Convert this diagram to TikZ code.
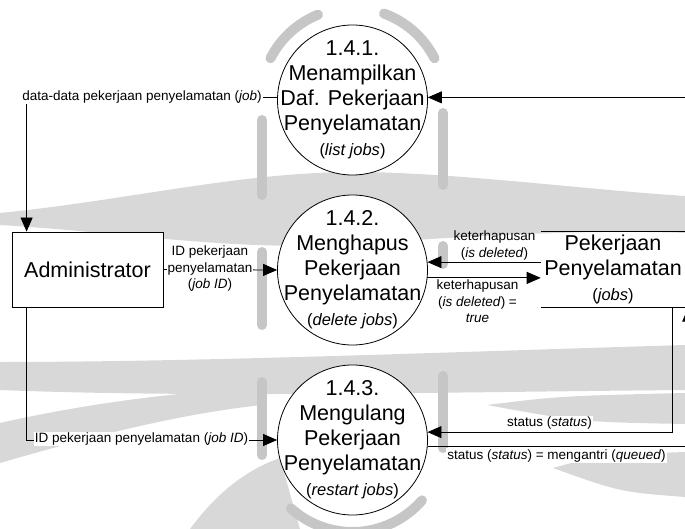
\documentclass[tikz,border=0pt]{standalone}
\usepackage{fontspec}
\setmainfont{Liberation Sans}
\usetikzlibrary{arrows.meta}
\definecolor{markbar}{HTML}{C6C6C6}
\definecolor{markband}{HTML}{D8D8D8}
\newcommand\subtxt[1]{{\fontsize{16.5}{19}\selectfont #1}}
\begin{document}
\begin{tikzpicture}[x=1pt,y=-1pt,
  big/.style={font=\fontsize{21.5}{25}\selectfont},
  lbl/.style={font=\fontsize{13.5}{16.5}\selectfont, align=center, inner sep=1pt},
  lblw/.style={lbl, fill=white},
  process/.style={circle, draw, line width=0.8pt, fill=white, minimum size=150pt,
                  inner sep=0pt},
  ptext/.style={big, align=center, inner sep=0pt},
  entity/.style={rectangle, draw, line width=0.8pt, fill=white, minimum width=151pt,
                 minimum height=75pt, big},
  storebox/.style={rectangle, minimum width=142pt, minimum height=75pt, align=center, big},
  flow/.style={-{Triangle[length=14pt,width=12pt]}, line width=0.8pt},
  barmark/.style={line width=10pt, line cap=round, draw=markbar},
]
\useasboundingbox (0,0) rectangle (685,529);
\clip (0,0) rectangle (685,529);

% watermark: wave bands
\fill[markband] (0,213) .. controls (130,200) and (240,172) .. (355,172)
  .. controls (450,172) and (590,190) .. (685,196) -- (685,233)
  .. controls (590,229) and (470,236) .. (355,244)
  .. controls (240,252) and (120,232) .. (0,225) -- cycle;
\fill[markband] (0,362) .. controls (200,362) and (450,352) .. (685,345) -- (685,390)
  .. controls (450,392) and (200,398) .. (0,390) -- cycle;
\fill[markband] (487,405) .. controls (560,396) .. (685,393) -- (685,424)
  .. controls (580,422) .. (487,405) -- cycle;
\fill[markband] (0,423) .. controls (80,405) and (170,392) .. (262,388) -- (262,405)
  .. controls (170,415) and (80,440) .. (0,463) -- cycle;
\fill[markband] (553,468) .. controls (600,455) .. (685,452) -- (685,497)
  .. controls (620,492) .. (553,468) -- cycle;
\fill[markband] (190,529) .. controls (215,495) and (245,470) .. (280,458) -- (300,529) -- cycle;

% watermark: bars and arcs
\draw[barmark] (262,120) -- (262,195);
\draw[barmark] (262,252) -- (262,325);
\draw[barmark] (262,382) -- (262,455);
\draw[barmark] (443,113) -- (443,185);
\draw[barmark] (443,246) -- (443,264);
\draw[barmark] (443,376) -- (443,448);
\draw[barmark] (352.5,100) ++(207:92) arc[start angle=207, end angle=248, radius=92];
\draw[barmark] (352.5,100) ++(290:92) arc[start angle=290, end angle=333, radius=92];
\draw[barmark] (352.5,440) ++(41:92) arc[start angle=41, end angle=132, radius=92];

% processes, entity and data store
\node[process] (p1) at (352.5,100) {};
\node[process] (p2) at (352.5,270) {};
\node[process] (p3) at (352.5,440) {};
\node[ptext] (p1t) at (p1)
  {1.4.1.\\Menampilkan\\Daf. Pekerjaan\\Penyelamatan\\\subtxt{(\textit{list jobs})}};
\node[ptext] (p2t) at (p2)
  {1.4.2.\\Menghapus\\Pekerjaan\\Penyelamatan\\\subtxt{(\textit{delete jobs})}};
\node[ptext] (p3t) at (p3)
  {1.4.3.\\Mengulang\\Pekerjaan\\Penyelamatan\\\subtxt{(\textit{restart jobs})}};
\node[entity] (admin) at (87.5,269.5) {Administrator};
\node[storebox] (store) at (613,269.5)
  {Pekerjaan\\Penyelamatan\\\subtxt{(\textit{jobs})}};
\coordinate (stn) at ([xshift=3pt]store.north east);
\coordinate (sts) at ([xshift=3pt]store.south east);
\draw[line width=0.8pt] (store.north west) -- (stn);
\draw[line width=0.8pt] (store.south west) -- (sts);

% data flows
\draw[flow] (p1.178) -| ([xshift=15pt]admin.north west);
\draw[flow] ([xshift=15pt]admin.south west) |- (p3.west);
\draw[flow] (admin.east) -- (p2.west);
\draw[flow] (stn) |- (p1.2);
\draw[flow] (p2.6 -| store.west) -- (p2.6);
\draw[flow] (p2.354.5) -- (p2.354.5 -| store.west);
\draw[flow] ([xshift=-13pt]store.south east) |- (p3.6);
\draw[flow] (p3.355) -| (sts);

% flow labels
\node[lblw] (l1) at (142,97) {data-data pekerjaan penyelamatan (\textit{job})};
\node[lblw] (l2) at (210,269) {ID pekerjaan\\penyelamatan\\(\textit{job ID})};
\node[lblw] (l3) at (141.5,439) {ID pekerjaan penyelamatan (\textit{job ID})};
\node[lbl] (l4) at (494.5,245.5) {keterhapusan\\(\textit{is deleted})};
\node[lbl] (l5) at (477.5,301.5) {keterhapusan\\(\textit{is deleted}) =\\\textit{true}};
\node[lblw] (l6) at (549.5,423) {status (\textit{status})};
\node[lblw, anchor=base] (l7) at (556.5,459) {status (\textit{status}) = mengantri (\textit{queued})};
\end{tikzpicture}
\end{document}
